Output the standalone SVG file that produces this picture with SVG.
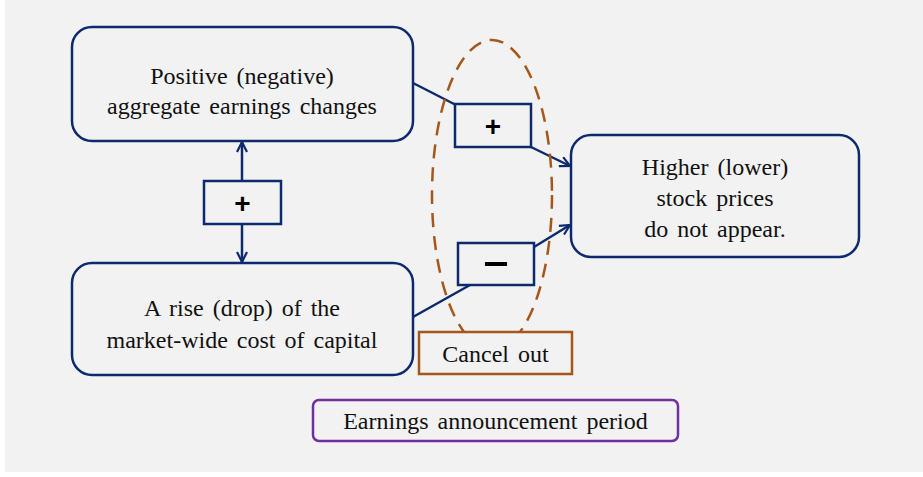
<svg xmlns="http://www.w3.org/2000/svg" width="923" height="477" viewBox="0 0 923 477">
<defs>
<style>
.node{fill:none;stroke:#0d2a6e;stroke-width:2.5}
.sq{fill:#f2f2f2;stroke:#0d2a6e;stroke-width:2.5}
.t{font-family:"Liberation Serif","Times New Roman",serif;font-size:24px;fill:#111;text-anchor:middle;word-spacing:3px}
.sign{font-family:"Liberation Sans",Arial,sans-serif;font-size:28px;font-weight:bold;fill:#000;text-anchor:middle}
.conn{fill:none;stroke:#0d2a6e;stroke-width:2.5}
</style>
<marker id="ah" viewBox="0 0 12 12" refX="11" refY="6" markerWidth="12" markerHeight="12" markerUnits="userSpaceOnUse" orient="auto-start-reverse">
<path d="M1,1 L11,6 L1,11" fill="none" stroke="#0d2a6e" stroke-width="2.2"/>
</marker>
</defs>
<rect x="0" y="0" width="923" height="477" fill="#ffffff"/>
<rect x="5" y="0" width="918" height="472" fill="#f2f2f2"/>
<g id="connectors">
<line class="conn" x1="242" y1="142" x2="242" y2="262" marker-start="url(#ah)" marker-end="url(#ah)"/>
<line class="conn" x1="413" y1="83" x2="456" y2="105"/>
<line class="conn" x1="531" y1="147" x2="570" y2="166" marker-end="url(#ah)"/>
<line class="conn" x1="413" y1="317" x2="470" y2="285"/>
<line class="conn" x1="534" y1="247" x2="570" y2="225" marker-end="url(#ah)"/>
</g>
<g id="ellipse-cancel">
<ellipse cx="492" cy="195" rx="60" ry="155" fill="none" stroke="#a5561a" stroke-width="2.5" stroke-dasharray="14,9"/>
</g>
<g id="node-earnings">
<rect class="node" x="72" y="27" width="341" height="114" rx="20"/>
<text class="t" x="242" y="84">Positive (negative)</text>
<text class="t" x="242" y="114">aggregate earnings changes</text>
</g>
<g id="node-cost">
<rect class="node" x="72" y="263" width="341" height="112" rx="20"/>
<text class="t" x="242" y="316">A rise (drop) of the</text>
<text class="t" x="242" y="348">market-wide cost of capital</text>
</g>
<g id="node-prices">
<rect class="node" x="571" y="135" width="288" height="122" rx="20"/>
<text class="t" x="715" y="175">Higher (lower)</text>
<text class="t" x="715" y="206">stock prices</text>
<text class="t" x="715" y="237">do not appear.</text>
</g>
<g id="sign-mid">
<rect class="sq" x="204" y="181" width="77" height="43"/>
<text class="sign" x="242.5" y="213">+</text>
</g>
<g id="sign-plus">
<rect class="sq" x="455" y="104" width="76" height="43"/>
<text class="sign" x="493" y="136">+</text>
</g>
<g id="sign-minus">
<rect class="sq" x="458" y="243" width="76" height="42"/>
<rect x="485" y="262" width="22" height="4" fill="#000"/>
</g>
<g id="node-cancel">
<rect x="419" y="332" width="153" height="42" fill="#f2f2f2" stroke="#a5561a" stroke-width="2.5"/>
<text class="t" x="495.5" y="362">Cancel out</text>
</g>
<g id="node-period">
<rect x="313" y="400" width="365" height="41" rx="6" fill="#f2f2f2" stroke="#7030a0" stroke-width="2.5"/>
<text class="t" x="495.5" y="429">Earnings announcement period</text>
</g>
</svg>
